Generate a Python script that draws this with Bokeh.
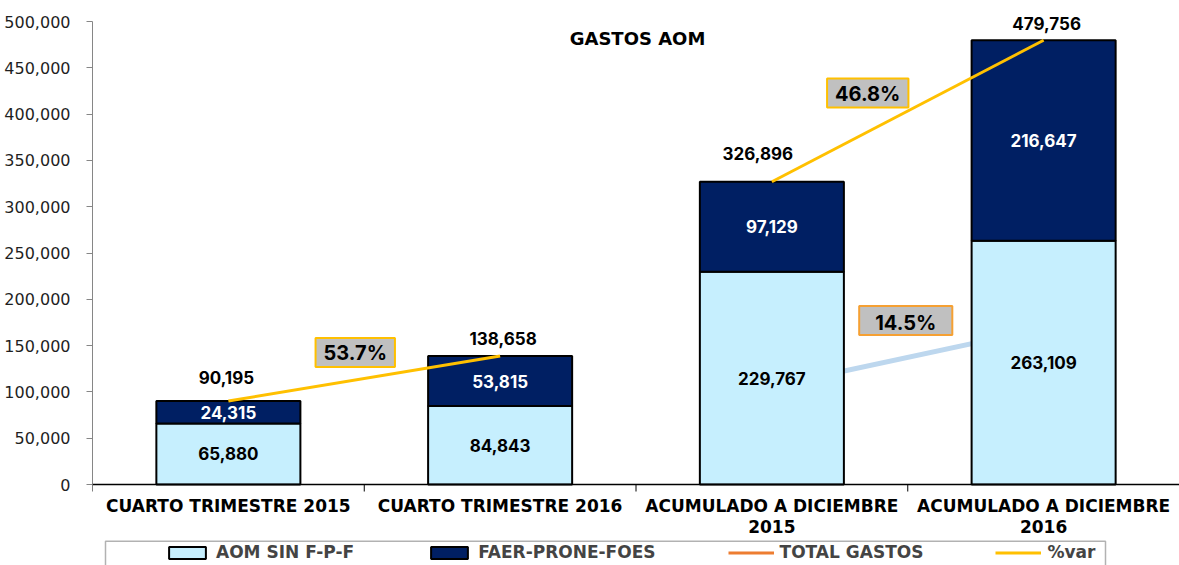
import math
from bokeh.plotting import figure
from bokeh.models import (ColumnDataSource, Range1d, FixedTicker, NumeralTickFormatter,
                          Legend, LegendItem, Label, BoxAnnotation, Span)
from bokeh.core.properties import value
from bokeh.embed import file_html
from bokeh.resources import INLINE

# ---------------- data ----------------
categories = ["CUARTO TRIMESTRE 2015", "CUARTO TRIMESTRE 2016",
              "ACUMULADO A DICIEMBRE\n2015", "ACUMULADO A DICIEMBRE\n2016"]
aom_sin_fpf = [65880, 84843, 229767, 263109]
faer_prone_foes = [24315, 53815, 97129, 216647]
total_gastos = [90195, 138658, 326896, 479756]
pct_var_labels = ["53.7%", "46.8%", "14.5%"]
aom_link_line = [105800, 168700]   # faint line between the two "ACUMULADO" bars
y_ticks = list(range(0, 500001, 50000))

# ---------------- styles / layout ----------------
LIGHT = "#C6EFFE"
DARK = "#001F63"
YELLOW = "#FFC000"
ORANGE = "#ED7D31"
PALE = "#BDD7EE"

W, H = 1179, 565
TOP, AXIS_Y, LEFT = 21, 484, 92          # pixel rows/cols of 500,000 line, zero line, frame left
YMAX = 500000
PX = YMAX / (AXIS_Y - TOP)               # data units per pixel
y_start = -PX * (H - AXIS_Y)             # extend frame to bottom of the page
y_end = YMAX + PX * TOP                  # and to its top

xs = [i + 0.5 for i in range(len(categories))]
tops = [a + f for a, f in zip(aom_sin_fpf, faer_prone_foes)]

p = figure(width=W, height=H, output_backend="svg", toolbar_location=None,
           x_range=Range1d(0, 4), y_range=Range1d(y_start, y_end),
           x_axis_location=None,
           min_border_left=LEFT, min_border_right=0, min_border_top=0, min_border_bottom=0)
p.xgrid.visible = False
p.ygrid.visible = False
p.outline_line_color = None
p.background_fill_color = "white"
p.border_fill_color = "white"

# y axis
ya = p.yaxis[0]
ya.ticker = FixedTicker(ticks=y_ticks)
ya.bounds = (0, YMAX)
ya.formatter = NumeralTickFormatter(format="0,0")
ya.axis_line_color = "#868686"
ya.major_tick_line_color = "#868686"
ya.major_tick_out = 6
ya.major_tick_in = 0
ya.minor_tick_line_color = None
ya.major_label_text_font = "DejaVu Sans"
ya.major_label_text_font_size = "16px"
ya.major_label_text_color = "#1f1f1f"
ya.major_label_standoff = 16

# category axis drawn by hand at y = 0
p.add_layout(Span(location=0, dimension="width", line_color="black", line_width=1.5))
p.ray(x=[0, 1, 2, 3, 4], y=[0] * 5, length=7, length_units="screen",
      angle=-math.pi / 2, line_color="black", line_width=1)
p.text(x=xs, y=[0] * 4, text=categories, y_offset=11, text_align="center",
       text_baseline="top", text_font=value("DejaVu Sans"), text_font_style="bold",
       text_font_size="17px", text_line_height=1.05, text_color="black")

# faint line behind bars
r_link = p.line(x=xs[2:], y=aom_link_line, line_color=PALE, line_width=5)

# stacked bars
src = ColumnDataSource(dict(x=xs, aom=aom_sin_fpf, faer=faer_prone_foes, top=tops))
r_aom = p.vbar(x="x", bottom=0, top="aom", width=0.53, source=src,
               fill_color=LIGHT, line_color="black", line_width=2)
r_faer = p.vbar(x="x", bottom="aom", top="top", width=0.53, source=src,
                fill_color=DARK, line_color="black", line_width=2)

# %var lines (connect totals)
var_xs = [[xs[0], xs[1]], [xs[2], xs[3]]]
var_ys = [[total_gastos[0], total_gastos[1]], [total_gastos[2], total_gastos[3]]]
r_var = p.multi_line(xs=var_xs, ys=var_ys, line_color=YELLOW, line_width=3)

# total gastos (invisible series, legend only)
r_total = p.line(x=xs, y=[float("nan")] * 4, line_color=ORANGE, line_width=3)

# segment labels
seg = ColumnDataSource(dict(
    x=xs * 2,
    y=[a / 2 for a in aom_sin_fpf] + [a + f / 2 for a, f in zip(aom_sin_fpf, faer_prone_foes)],
    t=[f"{v:,}" for v in aom_sin_fpf] + [f"{v:,}" for v in faer_prone_foes],
    c=["black"] * 4 + ["white"] * 4))
p.text(x="x", y="y", text="t", text_color="c", source=seg, text_align="center",
       text_baseline="middle", text_font=value("Inter"), text_font_style="bold",
       text_font_size="17px")

# total labels
tot = ColumnDataSource(dict(x=xs, y=total_gastos, t=[f"{v:,}" for v in total_gastos],
                            dx=[-2, 3, -14, 3], dy=[-23, -18, -28, -17]))
p.text(x="x", y="y", text="t", source=tot, x_offset="dx", y_offset="dy",
       text_align="center", text_baseline="alphabetic", text_font=value("Inter"),
       text_font_style="bold", text_font_size="17px", text_color="black")

# pct labels
mid1 = ((xs[0] + xs[1]) / 2, (total_gastos[0] + total_gastos[1]) / 2)
mid2 = ((xs[2] + xs[3]) / 2, (total_gastos[2] + total_gastos[3]) / 2)
mid3 = ((xs[2] + xs[3]) / 2, (aom_link_line[0] + aom_link_line[1]) / 2)
pct_specs = [(mid1, -9, 26, YELLOW, dict(left=8, right=8, top=3, bottom=2)),
             (mid2, -40, 18, YELLOW, dict(left=8, right=8, top=3, bottom=2)),
             (mid3, -2, 37, "#F5A033", dict(left=16, right=16, top=5, bottom=0))]
for txt, (mid, dx, dy, bc, pad) in zip(pct_var_labels, pct_specs):
    p.add_layout(Label(x=mid[0], y=mid[1], x_offset=dx, y_offset=dy, text=txt,
                       text_font="Inter", text_font_style="bold", text_font_size="20px",
                       text_color="black", text_align="center", text_baseline="middle",
                       background_fill_color="#C0C0C0", border_line_color=bc,
                       border_line_width=2, padding=pad))

# title
p.add_layout(Label(x=545, y=H - 37.5, x_units="screen", y_units="screen", text="GASTOS AOM",
                   text_font="DejaVu Sans", text_font_style="bold", text_font_size="18px",
                   text_align="center", text_baseline="middle", text_color="black"))

# legend (inside the extended frame, below the category labels)
legend = Legend(items=[LegendItem(label="AOM SIN F-P-F", renderers=[r_aom]),
                       LegendItem(label="FAER-PRONE-FOES", renderers=[r_faer]),
                       LegendItem(label="TOTAL GASTOS", renderers=[r_total]),
                       LegendItem(label="%var", renderers=[r_var])],
                orientation="horizontal", location=(72, 3), border_line_color=None,
                background_fill_alpha=0, padding=7, spacing=72, glyph_width=46,
                glyph_height=15, label_standoff=6, margin=0,
                label_text_font="DejaVu Sans", label_text_font_style="bold",
                label_text_font_size="17px")
p.add_layout(legend, "center")

p.add_layout(BoxAnnotation(left=105 - LEFT, right=1105 - LEFT, top=H - 540.7, bottom=-30,
                           left_units="screen", right_units="screen",
                           top_units="screen", bottom_units="screen",
                           fill_alpha=0, line_color="black", line_width=1.5))

open("out.html", "w").write(file_html(p, INLINE))
